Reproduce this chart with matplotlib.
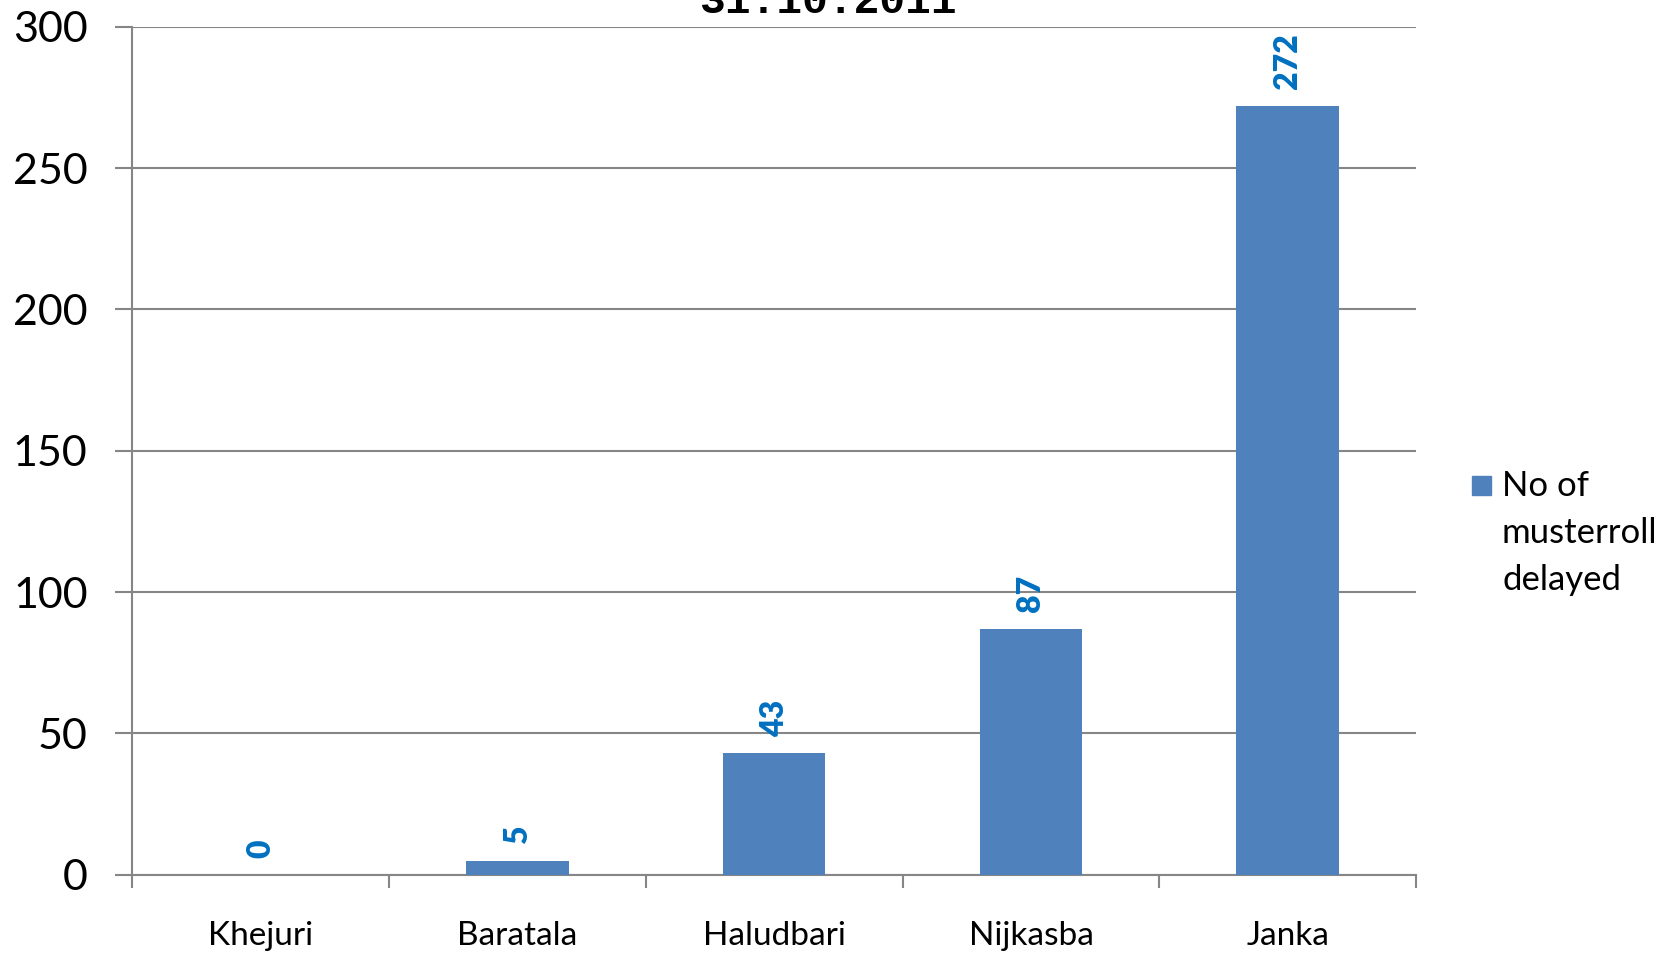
import numpy as np
import matplotlib.pyplot as plt
from matplotlib.patches import Rectangle

blocks = ['Khejuri', 'Baratala', 'Haludbari', 'Nijkasba', 'Janka']
delayed = [0, 5, 43, 87, 272]
series_name = 'No of\nmusterroll\ndelayed'
title = '31.10.2011'
bar_color = '#4F81BD'

plt.rcParams['font.family'] = ['Lato', 'DejaVu Sans']

fig = plt.figure(figsize=(16.72, 9.56), dpi=100)
ax = fig.add_axes([0.079, 0.085, 0.768, 0.887])

x = np.arange(len(blocks))
ax.bar(x, delayed, width=0.4, color=bar_color, zorder=3)

for xi, v in zip(x, delayed):
    ax.annotate(str(v), (xi, v), xytext=(0, 12), textcoords='offset points',
                rotation=90, ha='center', va='bottom',
                color='#0070C0', fontsize=23, fontweight='heavy')

ax.set_xlim(-0.5, len(blocks) - 0.5)
ax.set_ylim(0, 300)
ax.set_yticks(np.arange(0, 301, 50))
ax.set_xticks(x)
ax.set_xticklabels(blocks, fontsize=24)
ax.set_xticks(np.arange(-0.5, len(blocks), 1), minor=True)
ax.tick_params(axis='x', which='major', length=0, pad=33)
ax.tick_params(axis='x', which='minor', length=9, color='#868686', width=1.5, direction='out')
ax.tick_params(axis='y', labelsize=31, length=12, color='#868686', width=1.5, pad=20)
ax.grid(axis='y', color='#868686', linewidth=1.5, zorder=0)

for s in ['top', 'right']:
    ax.spines[s].set_visible(False)
for s in ['left', 'bottom']:
    ax.spines[s].set_color('#868686')
    ax.spines[s].set_linewidth(1.5)

fig.text(0.495, 1 - 13 / 956, title, ha='center', va='baseline',
         fontsize=31, fontweight='bold', family='Liberation Mono')

# legend drawn by hand so the key square sits next to the first line
fig.patches.append(Rectangle((1472 / 1672, 1 - 495 / 956), 19 / 1672, 19 / 956,
                             transform=fig.transFigure, color=bar_color))
fig.text(1502 / 1672, 1 - 470 / 956, series_name, ha='left', va='top',
         fontsize=25, linespacing=1.58)

fig.savefig('out.png', dpi=100)
